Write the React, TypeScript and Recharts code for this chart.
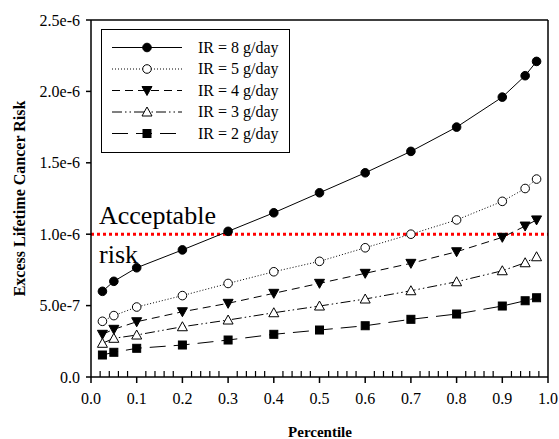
import { LineChart, Line, XAxis, YAxis, ReferenceLine, Legend } from 'recharts';

const percentiles = [0.025, 0.05, 0.1, 0.2, 0.3, 0.4, 0.5, 0.6, 0.7, 0.8, 0.9, 0.95, 0.975];
const ir8 = [6.0e-7, 6.7e-7, 7.65e-7, 8.9e-7, 1.02e-6, 1.15e-6, 1.29e-6, 1.43e-6, 1.58e-6, 1.75e-6, 1.96e-6, 2.11e-6, 2.21e-6];
const ir5 = [3.9e-7, 4.3e-7, 4.9e-7, 5.7e-7, 6.55e-7, 7.37e-7, 8.1e-7, 9.05e-7, 1.0e-6, 1.1e-6, 1.23e-6, 1.32e-6, 1.386e-6];
const ir4 = [2.99e-7, 3.34e-7, 3.87e-7, 4.57e-7, 5.16e-7, 5.86e-7, 6.56e-7, 7.26e-7, 7.96e-7, 8.77e-7, 9.78e-7, 1.057e-6, 1.1e-6];
const ir3 = [2.36e-7, 2.71e-7, 2.94e-7, 3.52e-7, 3.99e-7, 4.5e-7, 4.97e-7, 5.46e-7, 6.04e-7, 6.67e-7, 7.44e-7, 8.0e-7, 8.42e-7];
const ir2 = [1.54e-7, 1.73e-7, 2.01e-7, 2.24e-7, 2.59e-7, 2.99e-7, 3.29e-7, 3.59e-7, 4.04e-7, 4.41e-7, 4.97e-7, 5.34e-7, 5.55e-7];

const majorTicks = [0, 0.1, 0.2, 0.3, 0.4, 0.5, 0.6, 0.7, 0.8, 0.9, 1.0];
const yTicks = [0, 5e-7, 1e-6, 1.5e-6, 2e-6, 2.5e-6];
const yMax = 2.5e-6;
const acceptableRisk = 1e-6;

// minor ticks every 0.02 between the major ones, pointing into the plot
const minorTicks: number[] = [];
majorTicks.slice(0, -1).forEach((t) => {
  for (let k = 1; k < 5; k++) minorTicks.push(+(t + k * 0.02).toFixed(2));
});

const series = [
  { key: 'ir8', name: 'IR = 8 g/day', values: ir8, dash: undefined, shape: 'circle', filled: true },
  { key: 'ir5', name: 'IR = 5 g/day', values: ir5, dash: '1 2', shape: 'circle', filled: false },
  { key: 'ir4', name: 'IR = 4 g/day', values: ir4, dash: '8 5', shape: 'down', filled: true },
  { key: 'ir3', name: 'IR = 3 g/day', values: ir3, dash: '10 3 1.5 3 1.5 3', shape: 'up', filled: false },
  { key: 'ir2', name: 'IR = 2 g/day', values: ir2, dash: '16 8', shape: 'square', filled: true },
];

const data = percentiles.map((p, i) => {
  const row: Record<string, number> = { p };
  series.forEach((s) => (row[s.key] = s.values[i]));
  return row;
});

const W = 559;
const H = 439;
const MARGIN = { top: 20, right: 11, bottom: 0, left: 0 };
const Y_AXIS_W = 91;
const X_AXIS_H = 62;
const plot = {
  left: MARGIN.left + Y_AXIS_W,
  right: W - MARGIN.right,
  top: MARGIN.top,
  bottom: H - MARGIN.bottom - X_AXIS_H,
};

const FONT = '"Liberation Serif", "Times New Roman", serif';
const AXIS = { stroke: '#000', strokeWidth: 1.5 };

function Marker({ cx, cy, shape, filled }: any) {
  const fill = filled ? '#000' : '#fff';
  if (shape === 'circle') return <circle cx={cx} cy={cy} r={4.3} fill={fill} stroke="#000" strokeWidth={1} />;
  if (shape === 'square') return <rect x={cx - 4} y={cy - 4} width={8} height={8} fill={fill} stroke="#000" strokeWidth={1} />;
  if (shape === 'down')
    return <path d={`M${cx - 5},${cy - 4} L${cx + 5},${cy - 4} L${cx},${cy + 5} Z`} fill={fill} stroke="#000" strokeWidth={1} />;
  return <path d={`M${cx - 5},${cy + 4} L${cx + 5},${cy + 4} L${cx},${cy - 5} Z`} fill={fill} stroke="#000" strokeWidth={1} />;
}

const fmtY = (v: number) => (v === 0 ? '0.0' : v.toExponential(1));

const renderAcceptable = (props: any) => {
  const { x, y } = props.viewBox;
  return (
    <g fontFamily={FONT} fontSize={26} fill="#000">
      <text x={x + 8} y={y - 10}>Acceptable</text>
      <text x={x + 8} y={y + 29}>risk</text>
    </g>
  );
};

const LegendBox = () => (
  <svg width={189} height={124} style={{ display: 'block' }}>
    <rect x={0.5} y={0.5} width={188} height={123} fill="#fff" stroke="#000" strokeWidth={1} />
    {series.map((s, i) => {
      const cy = 18.5 + i * 21.5;
      return (
        <g key={s.key}>
          <line x1={11} x2={81} y1={cy} y2={cy} stroke="#000" strokeWidth={1} strokeDasharray={s.dash} />
          <Marker cx={46} cy={cy} shape={s.shape} filled={s.filled} />
          <text x={97} y={cy + 5} fontFamily={FONT} fontSize={16} fill="#000">
            {s.name}
          </text>
        </g>
      );
    })}
  </svg>
);

// frame (top/right edges) and inward minor ticks, laid over the chart
const FrameOverlay = () => {
  const xPx = (v: number) => plot.left + v * (plot.right - plot.left);
  return (
    <svg width={W} height={H} style={{ position: 'absolute', left: 0, top: 0, pointerEvents: 'none' }}>
      <line x1={plot.left} x2={plot.right} y1={plot.top} y2={plot.top} stroke="#000" strokeWidth={1.5} />
      <line x1={plot.right} x2={plot.right} y1={plot.top} y2={plot.bottom} stroke="#000" strokeWidth={1.5} />
      {minorTicks.map((t) => (
        <line key={t} x1={xPx(t)} x2={xPx(t)} y1={plot.bottom} y2={plot.bottom - 6} stroke="#000" strokeWidth={1.2} />
      ))}
    </svg>
  );
};

export default function App() {
  return (
    <div style={{ position: 'absolute', left: 0, top: 0, width: W, height: H, background: '#fff' }}>
      <LineChart width={W} height={H} data={data} margin={MARGIN}>
        <XAxis
          dataKey="p"
          type="number"
          domain={[0, 1]}
          allowDataOverflow
          ticks={majorTicks}
          interval={0}
          tickFormatter={(v: number) => v.toFixed(1)}
          tickSize={6}
          tickMargin={10}
          tick={{ fontFamily: FONT, fontSize: 16, fill: '#000' }}
          tickLine={AXIS}
          height={X_AXIS_H}
          axisLine={AXIS}
          label={{
            content: () => (
              <text x={320} y={437} textAnchor="middle" fontFamily={FONT} fontSize={15} fontWeight="bold" fill="#000">
                Percentile
              </text>
            ),
          }}
        />
        <YAxis
          type="number"
          domain={[0, yMax]}
          allowDataOverflow
          ticks={yTicks}
          interval={0}
          tickFormatter={fmtY}
          width={Y_AXIS_W}
          tickSize={5}
          tickMargin={6}
          tick={{ fontFamily: FONT, fontSize: 16, fill: '#000' }}
          tickLine={AXIS}
          axisLine={AXIS}
          label={{
            content: () => (
              <text
                x={25}
                y={198.5}
                transform="rotate(-90 25 198.5)"
                textAnchor="middle"
                fontFamily={FONT}
                fontSize={16}
                fontWeight="bold"
                fill="#000"
              >
                Excess Lifetime Cancer Risk
              </text>
            ),
          }}
        />
        <ReferenceLine y={acceptableRisk} stroke="#ff0000" strokeWidth={3} strokeDasharray="3 3" label={renderAcceptable} />
        {series.map((s) => (
          <Line
            key={s.key}
            dataKey={s.key}
            name={s.name}
            type="linear"
            stroke="#000"
            strokeWidth={1}
            strokeDasharray={s.dash}
            isAnimationActive={false}
            dot={(p: any) => <Marker key={`${s.key}-${p.index}`} cx={p.cx} cy={p.cy} shape={s.shape} filled={s.filled} />}
            activeDot={false}
          />
        ))}
        <Legend
          layout="vertical"
          align="center"
          verticalAlign="middle"
          content={<LegendBox />}
          wrapperStyle={{ left: 101, top: 29, width: 189, height: 124 }}
        />
      </LineChart>
      <FrameOverlay />
    </div>
  );
}
